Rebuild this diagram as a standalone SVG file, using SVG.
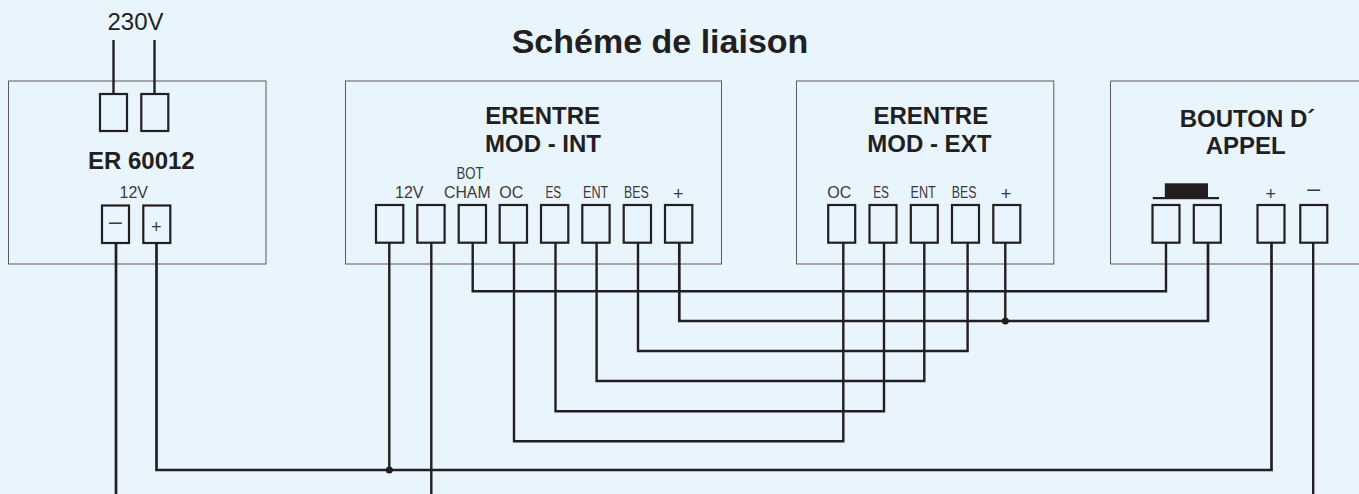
<svg xmlns="http://www.w3.org/2000/svg" width="1359" height="494" viewBox="0 0 1359 494">
<style>
text{font-family:"Liberation Sans",Arial,sans-serif;fill:#231f20;text-anchor:middle}
.h{font-weight:bold;font-size:24px}
.s{font-size:16px;fill:#3c393a}
.sym{font-size:18px;fill:#3c393a}
.dash{font-size:23px;fill:#3c393a}
.box{fill:none;stroke:#58595b;stroke-width:1}
.t{fill:none;stroke:#231f20;stroke-width:2.2}
.w{fill:none;stroke:#231f20;stroke-width:2.4}
.b{fill:none;stroke:#231f20;stroke-width:2.7}
.dot{fill:#231f20}
</style>
<rect width="1359" height="494" fill="#e9f5fc"/>
<text id="title" x="660" y="53" style="font-weight:bold;font-size:34px">Schéme de liaison</text>
<text id="v230" x="135.500" y="30" style="font-size:24px">230V</text>
<g id="er60012">
<rect class="box" x="8.500" y="81" width="257.500" height="183"/>
<rect class="t" x="100" y="94" width="27" height="37"/>
<rect class="t" x="141.300" y="94" width="27" height="37"/>
<text class="h" x="141.300" y="169">ER 60012</text>
<text class="s" x="133.800" y="198.300">12V</text>
<rect class="t" x="102" y="205.500" width="27" height="37.500"/>
<rect class="t" x="143.300" y="205.500" width="27" height="37.500"/>
<text class="dash" x="115.500" y="229">–</text>
<text class="sym" x="156.300" y="233">+</text>
</g>
<g id="mod-int">
<rect class="box" x="345.500" y="81" width="376" height="183"/>
<text class="h" x="542.700" y="124">ERENTRE</text>
<text class="h" x="543" y="152">MOD - INT</text>
<text class="s" x="409.300" y="198">12V</text>
<text class="s" x="470" y="179.300" textLength="27" lengthAdjust="spacingAndGlyphs">BOT</text>
<text class="s" x="467.300" y="198" textLength="46.500" lengthAdjust="spacingAndGlyphs">CHAM</text>
<text class="s" x="511.300" y="198">OC</text>
<text class="s" x="553.300" y="198" textLength="15.700" lengthAdjust="spacingAndGlyphs">ES</text>
<text class="s" x="595.700" y="198" textLength="25.300" lengthAdjust="spacingAndGlyphs">ENT</text>
<text class="s" x="636.300" y="198" textLength="24.700" lengthAdjust="spacingAndGlyphs">BES</text>
<text class="sym" x="678.300" y="199.500">+</text>
<rect class="t" x="376" y="205" width="27.300" height="37.700"/>
<rect class="t" x="417.300" y="205" width="27.300" height="37.700"/>
<rect class="t" x="458.700" y="205" width="27.300" height="37.700"/>
<rect class="t" x="499.700" y="205" width="27.300" height="37.700"/>
<rect class="t" x="541" y="205" width="27.300" height="37.700"/>
<rect class="t" x="582.300" y="205" width="27.300" height="37.700"/>
<rect class="t" x="623.700" y="205" width="27.300" height="37.700"/>
<rect class="t" x="665" y="205" width="27.300" height="37.700"/>
</g>
<g id="mod-ext">
<rect class="box" x="796.500" y="81" width="257.300" height="183"/>
<text class="h" x="930.800" y="124">ERENTRE</text>
<text class="h" x="929.300" y="152">MOD - EXT</text>
<text class="s" x="839.200" y="198">OC</text>
<text class="s" x="881" y="198" textLength="15.700" lengthAdjust="spacingAndGlyphs">ES</text>
<text class="s" x="923.200" y="198" textLength="25.300" lengthAdjust="spacingAndGlyphs">ENT</text>
<text class="s" x="964.200" y="198" textLength="24.700" lengthAdjust="spacingAndGlyphs">BES</text>
<text class="sym" x="1005.900" y="199.500">+</text>
<rect class="t" x="828.200" y="205" width="27" height="37.700"/>
<rect class="t" x="869.500" y="205" width="27" height="37.700"/>
<rect class="t" x="910.800" y="205" width="27" height="37.700"/>
<rect class="t" x="952" y="205" width="27" height="37.700"/>
<rect class="t" x="993.300" y="205" width="27" height="37.700"/>
</g>
<g id="bouton">
<path class="box" d="M1359 81H1110.500V264H1359"/>
<text class="h" x="1247.500" y="126.700">BOUTON D´</text>
<text class="h" x="1245.700" y="153.500">APPEL</text>
<rect class="dot" x="1164.800" y="183.300" width="43.200" height="14"/>
<rect class="dot" x="1152.800" y="197" width="66.200" height="2.200"/>
<text class="sym" x="1270.800" y="199.500">+</text>
<text class="dash" x="1313.600" y="196">–</text>
<rect class="t" x="1152.500" y="205" width="27" height="37.700"/>
<rect class="t" x="1193.800" y="205" width="27" height="37.700"/>
<rect class="t" x="1257.500" y="205" width="27" height="37.700"/>
<rect class="t" x="1300.300" y="205" width="27" height="37.700"/>
</g>
<g id="connectors">
<path class="w" d="M113.500 40V94"/>
<path class="w" d="M154.500 40V94"/>
<path class="b" d="M116 243V494"/>
<path class="b" d="M156.500 243V470H1271.500V243"/>
<path class="w" d="M389.300 243V470"/>
<path class="w" d="M431.300 243V494"/>
<path class="w" d="M472.700 243V291.300H1166V243"/>
<path class="b" d="M679.300 243V321H1208V243"/>
<path class="w" d="M1005.300 243V321"/>
<path class="w" d="M638 243V351H967.600V243"/>
<path class="w" d="M596.600 243V381H924.300V243"/>
<path class="w" d="M555.500 243V411.300H884V243"/>
<path class="w" d="M514 243V441.300H843.300V243"/>
<path class="w" d="M1313.200 243V494"/>
<circle class="dot" cx="1005.300" cy="321" r="3.500"/>
<circle class="dot" cx="389.300" cy="470" r="3.500"/>
</g>
</svg>
